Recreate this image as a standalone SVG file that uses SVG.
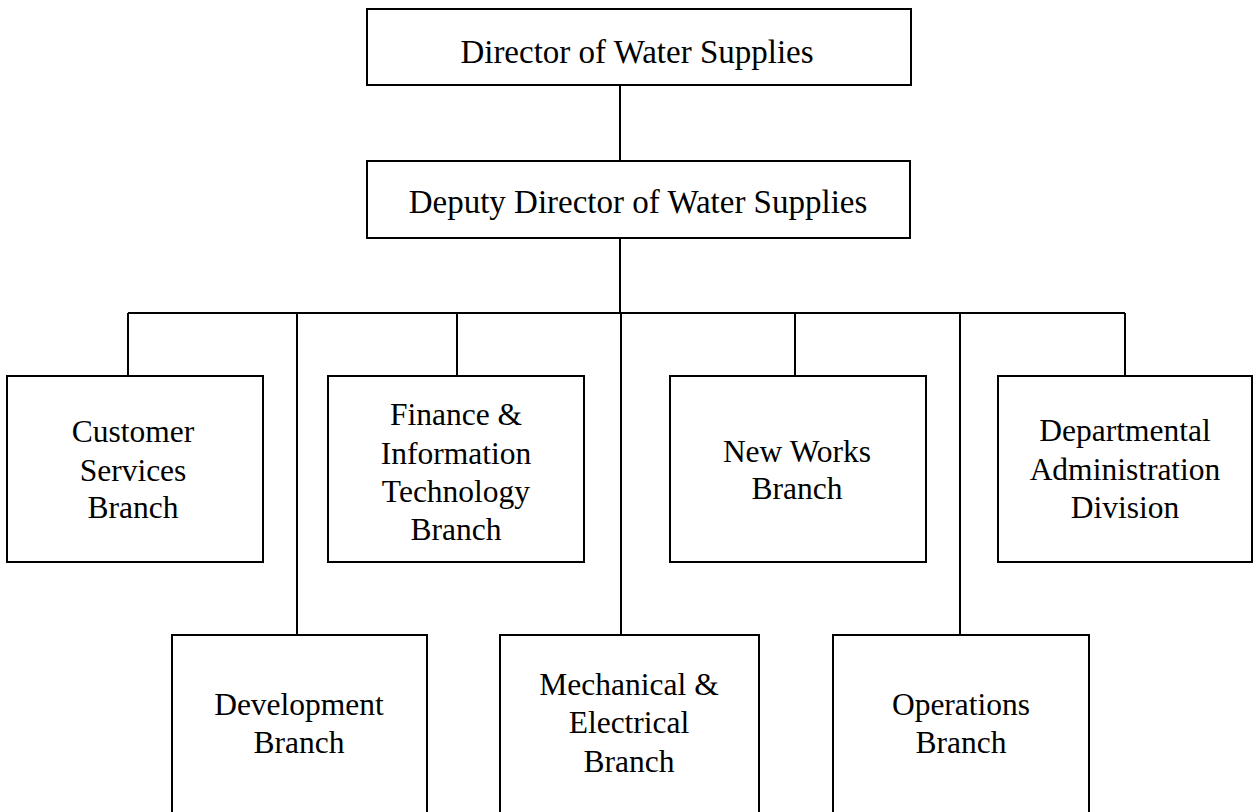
<svg xmlns="http://www.w3.org/2000/svg" width="1253" height="812" viewBox="0 0 1253 812">
  <style>
    .box { fill: #ffffff; stroke: #000000; stroke-width: 2; }
    .wire { fill: none; stroke: #000000; stroke-width: 2; }
    .label { font-family: "Liberation Serif", "Times New Roman", serif; font-size: 31.5px; fill: #000000; text-anchor: middle; }
    .head { font-size: 33px; }
  </style>
  <rect width="1253" height="812" fill="#ffffff"/>

  <!-- connectors -->
  <g id="connectors" class="wire">
    <path d="M620 85 V161"/>
    <path d="M620 238 V313"/>
    <path d="M128 313 H1125"/>
    <path d="M128 313 V376"/>
    <path d="M297 313 V635"/>
    <path d="M457 313 V376"/>
    <path d="M621 313 V635"/>
    <path d="M795 313 V376"/>
    <path d="M960 313 V635"/>
    <path d="M1125 313 V376"/>
  </g>

  <g id="director">
    <rect class="box" x="367" y="9" width="544" height="76"/>
    <text class="label head" x="637" y="63">Director of Water Supplies</text>
  </g>

  <g id="deputy-director">
    <rect class="box" x="367" y="161" width="543" height="77"/>
    <text class="label head" x="638" y="213">Deputy Director of Water Supplies</text>
  </g>

  <g id="customer-services">
    <rect class="box" x="7" y="376" width="256" height="186"/>
    <text class="label" x="133" y="442">Customer</text>
    <text class="label" x="133" y="481">Services</text>
    <text class="label" x="133" y="518">Branch</text>
  </g>

  <g id="finance-it">
    <rect class="box" x="328" y="376" width="256" height="186"/>
    <text class="label" x="456" y="425">Finance &amp;</text>
    <text class="label" x="456" y="464">Information</text>
    <text class="label" x="456" y="502">Technology</text>
    <text class="label" x="456" y="540">Branch</text>
  </g>

  <g id="new-works">
    <rect class="box" x="670" y="376" width="256" height="186"/>
    <text class="label" x="797" y="462">New Works</text>
    <text class="label" x="797" y="499">Branch</text>
  </g>

  <g id="departmental-administration">
    <rect class="box" x="998" y="376" width="254" height="186"/>
    <text class="label" x="1125" y="441">Departmental</text>
    <text class="label" x="1125" y="480">Administration</text>
    <text class="label" x="1125" y="518">Division</text>
  </g>

  <g id="development">
    <rect class="box" x="172" y="635" width="255" height="200"/>
    <text class="label" x="299" y="715">Development</text>
    <text class="label" x="299" y="753">Branch</text>
  </g>

  <g id="mechanical-electrical">
    <rect class="box" x="500" y="635" width="259" height="200"/>
    <text class="label" x="629" y="695">Mechanical &amp;</text>
    <text class="label" x="629" y="733">Electrical</text>
    <text class="label" x="629" y="772">Branch</text>
  </g>

  <g id="operations">
    <rect class="box" x="833" y="635" width="256" height="200"/>
    <text class="label" x="961" y="715">Operations</text>
    <text class="label" x="961" y="753">Branch</text>
  </g>
</svg>
